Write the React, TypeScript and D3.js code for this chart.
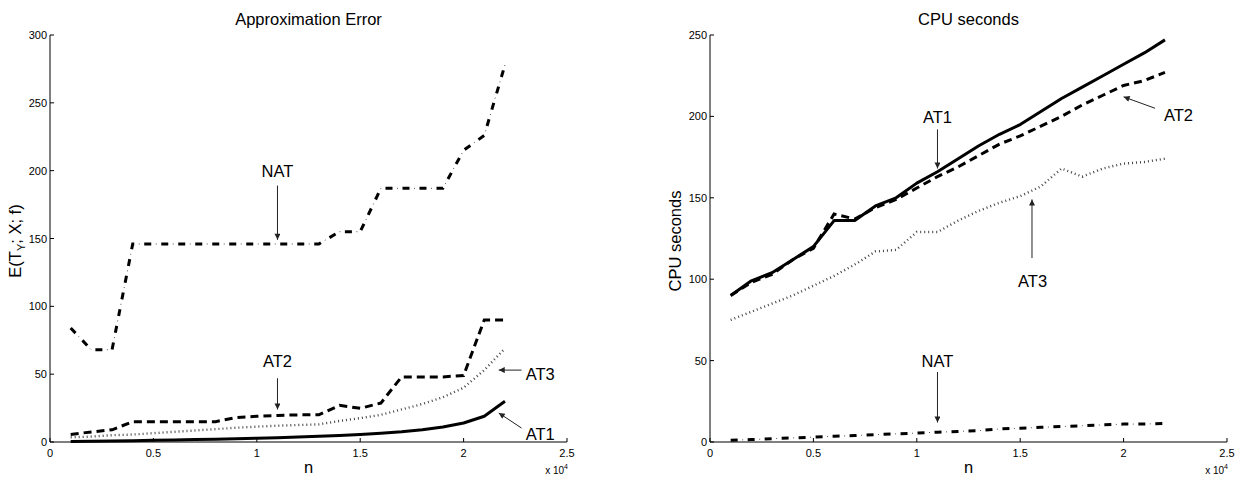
import React from 'react';
import * as d3 from 'd3';

// n values (in units of 10^4)
const nValues = [0.1, 0.2, 0.3, 0.4, 0.5, 0.6, 0.7, 0.8, 0.9, 1.0, 1.1, 1.2, 1.3, 1.4, 1.5, 1.6, 1.7, 1.8, 1.9, 2.0, 2.1, 2.2];

// Approximation error
const errNAT = [84, 68, 68, 146, 146, 146, 146, 146, 146, 146, 146, 146, 146, 155, 155, 187, 187, 187, 187, 215, 226, 278];
const errAT2 = [5.6, 7.4, 9, 15, 15, 15, 15, 15, 18, 19, 19.6, 20, 20, 27, 24.8, 28.7, 48, 48, 48, 49, 90, 90];
const errAT3 = [3.5, 4, 5, 5.5, 6.5, 7.5, 8.5, 9.5, 10.5, 11.3, 12, 12.5, 13, 15.5, 17.6, 20, 24, 28, 33, 40, 53, 69];
const errAT1 = [0.3, 0.5, 0.7, 0.9, 1.2, 1.5, 1.8, 2.1, 2.4, 2.8, 3.2, 3.7, 4.2, 4.8, 5.5, 6.4, 7.5, 9, 11, 14, 19, 30];

// CPU seconds
const cpuAT1 = [90, 99, 104, 112, 120, 136, 136, 145, 150, 159, 166, 174, 182, 189, 195, 203, 211, 218, 225, 232, 239, 247];
const cpuAT2 = [90, 98, 103, 112, 119, 140, 137, 144, 149, 156, 163, 169, 176, 183, 188, 194, 200, 207, 213, 219, 222, 227];
const cpuAT3 = [75, 80, 85, 90, 96, 102, 109, 117, 118, 129, 129, 136, 142, 147, 151, 157, 168, 163, 168, 171, 172, 174];
const cpuNAT = [1, 1.5, 2, 2.5, 3, 3.5, 4, 4.5, 5, 5.5, 6, 6.5, 7, 8, 8.5, 9, 9.5, 10, 10.5, 11, 11, 11.5];

const xTicks = [0, 0.5, 1, 1.5, 2, 2.5];
const xTickLabels = ['0', '0.5', '1', '1.5', '2', '2.5'];
const errTicks = [0, 50, 100, 150, 200, 250, 300];
const cpuTicks = [0, 50, 100, 150, 200, 250];

type Style = 'solid' | 'dashed' | 'dotted' | 'dashdot';
type Series = { values: number[]; style: Style };
type Note = { text: string; tx: number; ty: number; anchor: 'start' | 'middle'; from: [number, number]; to: [number, number] };

const FONT = '"Liberation Sans", Arial, Helvetica, sans-serif';

function SeriesPath({ d, style }: { d: string; style: Style }) {
  if (style === 'solid') return <path d={d} fill="none" stroke="#000" strokeWidth={3} strokeLinejoin="round" />;
  if (style === 'dashed') return <path d={d} fill="none" stroke="#000" strokeWidth={3} strokeDasharray="8 5" />;
  if (style === 'dotted') return <path d={d} fill="none" stroke="#444" strokeWidth={2.4} strokeDasharray="1 3" />;
  return (
    <g>
      <path d={d} fill="none" stroke="#000" strokeWidth={3} strokeDasharray="7 10" />
      <path d={d} fill="none" stroke="#555" strokeWidth={1} strokeDasharray="1 16" strokeDashoffset={5.5} />
    </g>
  );
}

function Panel({ x0, x1, yTop, yBot, yMax, yTicks, title, series, notes, yLabel }: {
  x0: number; x1: number; yTop: number; yBot: number; yMax: number; yTicks: number[]; title: string;
  series: Series[]; notes: Note[]; yLabel: React.ReactNode;
}) {
  const x = d3.scaleLinear().domain([0, 2.5]).range([x0, x1]);
  const y = d3.scaleLinear().domain([0, yMax]).range([yBot, yTop]);
  const line = d3.line<number>().x((_, i) => x(nValues[i])).y((v) => y(v));
  return (
    <g fontFamily={FONT}>
      <text x={(x0 + x1) / 2} y={25} textAnchor="middle" fontSize={16.5}>{title}</text>
      <line x1={x0} x2={x0} y1={yTop} y2={yBot} stroke="#000" />
      <line x1={x0} x2={x1} y1={yBot} y2={yBot} stroke="#000" />
      {yTicks.map((t) => (
        <g key={'y' + t}>
          <line x1={x0} x2={x0 + 4} y1={y(t)} y2={y(t)} stroke="#000" />
          <text x={x0 - 3} y={y(t) + 4} textAnchor="end" fontSize={11}>{t}</text>
        </g>
      ))}
      {xTicks.map((t, i) => (
        <g key={'x' + t}>
          <line x1={x(t)} x2={x(t)} y1={yBot} y2={yBot - 4} stroke="#000" />
          <text x={x(t)} y={yBot + 15} textAnchor="middle" fontSize={11}>{xTickLabels[i]}</text>
        </g>
      ))}
      <text x={(x0 + x1) / 2} y={473} textAnchor="middle" fontSize={16.5}>n</text>
      <text x={x1 + 1} y={474} textAnchor="end" fontSize={10}>
        x 10<tspan dy={-5} fontSize={7}>4</tspan>
      </text>
      {yLabel}
      {series.map((s, i) => (
        <SeriesPath key={i} d={line(s.values) || ''} style={s.style} />
      ))}
      {notes.map((n, i) => (
        <g key={'n' + i}>
          <line x1={x(n.from[0])} y1={y(n.from[1])} x2={x(n.to[0])} y2={y(n.to[1])} stroke="#222" strokeWidth={1} markerEnd="url(#arrow)" />
          <text x={x(n.tx)} y={y(n.ty)} textAnchor={n.anchor} fontSize={16.5}>{n.text}</text>
        </g>
      ))}
    </g>
  );
}

export default function App() {
  const leftNotes: Note[] = [
    { text: 'NAT', tx: 1.1, ty: 195, anchor: 'middle', from: [1.1, 189], to: [1.1, 149] },
    { text: 'AT2', tx: 1.1, ty: 55, anchor: 'middle', from: [1.1, 47], to: [1.1, 24] },
    { text: 'AT3', tx: 2.3, ty: 46, anchor: 'start', from: [2.28, 53], to: [2.17, 53] },
    { text: 'AT1', tx: 2.3, ty: 1.5, anchor: 'start', from: [2.28, 10.3], to: [2.17, 21.4] },
  ];
  const rightNotes: Note[] = [
    { text: 'AT1', tx: 1.1, ty: 196, anchor: 'middle', from: [1.1, 192], to: [1.1, 168] },
    { text: 'NAT', tx: 1.1, ty: 46, anchor: 'middle', from: [1.1, 43], to: [1.1, 12] },
    { text: 'AT2', tx: 2.195, ty: 197, anchor: 'start', from: [2.152, 205], to: [2.0, 212] },
    { text: 'AT3', tx: 1.56, ty: 95, anchor: 'middle', from: [1.557, 113], to: [1.557, 149] },
  ];
  return (
    <svg width={1250} height={481} style={{ position: 'absolute', left: 0, top: 0, background: '#fff' }}>
      <defs>
        <marker id="arrow" viewBox="0 0 10 10" refX={10} refY={5} markerWidth={7} markerHeight={6} markerUnits="userSpaceOnUse" orient="auto">
          <path d="M0,0 L10,5 L0,10 z" fill="#222" />
        </marker>
      </defs>
      <rect width={1250} height={481} fill="#fff" />
      <Panel
        x0={50} x1={567} yTop={35} yBot={442} yMax={300} yTicks={errTicks}
        title="Approximation Error"
        series={[
          { values: errNAT, style: 'dashdot' },
          { values: errAT2, style: 'dashed' },
          { values: errAT3, style: 'dotted' },
          { values: errAT1, style: 'solid' },
        ]}
        notes={leftNotes}
        yLabel={
          <text transform="translate(21,241) rotate(-90)" textAnchor="middle" fontSize={16.5}>
            E(T<tspan dy={4} fontSize={11}>Y</tspan><tspan dy={-4}>; X; f)</tspan>
          </text>
        }
      />
      <Panel
        x0={710} x1={1227} yTop={35} yBot={442} yMax={250} yTicks={cpuTicks}
        title="CPU seconds"
        series={[
          { values: cpuAT3, style: 'dotted' },
          { values: cpuNAT, style: 'dashdot' },
          { values: cpuAT2, style: 'dashed' },
          { values: cpuAT1, style: 'solid' },
        ]}
        notes={rightNotes}
        yLabel={
          <text transform="translate(681,241) rotate(-90)" textAnchor="middle" fontSize={16.5}>CPU seconds</text>
        }
      />
    </svg>
  );
}
